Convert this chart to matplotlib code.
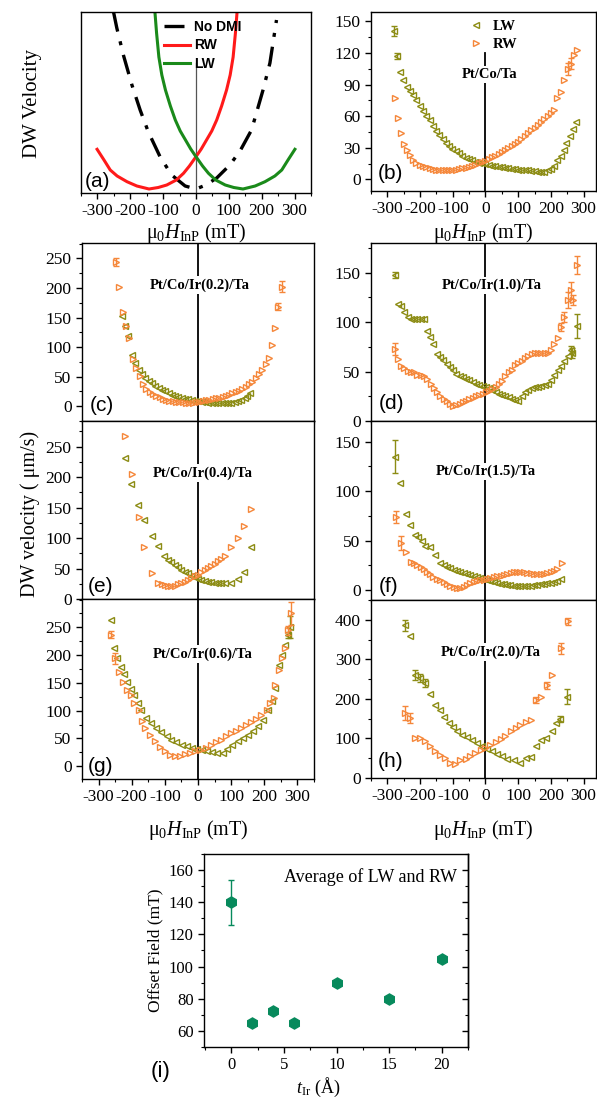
import numpy as np
import matplotlib
matplotlib.use('Agg')
import matplotlib.pyplot as plt
from matplotlib.ticker import MultipleLocator
from matplotlib.lines import Line2D

plt.rcParams['font.family'] = 'Liberation Serif'
plt.rcParams['mathtext.fontset'] = 'custom'
plt.rcParams['mathtext.rm'] = 'Liberation Serif'
plt.rcParams['mathtext.it'] = 'Liberation Serif:italic'
plt.rcParams['axes.unicode_minus'] = False
plt.rcParams['axes.linewidth'] = 1.0

OLIVE = '#8C8C14'
ORANGE = '#F5873A'
TEAL = '#078A5C'

# ---- (a) sketch curves (arbitrary units) ----
a_nodmi_h = [-251, -241, -221, -195, -170, -145, -109, -74, -33, 0, 30, 63, 103, 134, 169, 204, 225, 245]
a_nodmi_v = [181, 165, 138, 108, 83, 61, 36, 18, 7, 4, 8, 15, 28, 42, 63, 103, 130, 173]
a_rw_h = [-301, -280, -261, -240, -210, -180, -143, -115, -89, -60, -38, -20, 0, 16, 32, 48, 63, 78, 93, 104, 113, 120, 125]
a_rw_v = [43.7, 33, 23, 17, 11.3, 7, 4, 5.5, 8, 13, 19.7, 27, 36.3, 44, 53, 62, 73, 87, 103, 118, 136, 160, 181]
a_lw_h = [-125, -120, -113, -104, -93, -78, -63, -48, -32, -16, 0, 20, 38, 60, 89, 115, 143, 180, 210, 240, 261, 280, 301]
a_lw_v = [181, 160, 136, 118, 103, 87, 73, 62, 53, 44, 36.3, 27, 19.7, 13, 8, 5.5, 4, 7, 11.3, 17, 23, 33, 43.7]

# ---- (b) Pt/Co/Ta ----
b_lw_h = [-281, -271, -261, -251, -241, -231, -221, -211, -201, -191, -181, -171, -161, -151, -141, -131, -121,
          -111, -101, -91, -81, -71, -61, -51, -41, -31, -21, -11, 0, 10, 20, 30, 40, 50, 60, 70, 80, 90, 100,
          110, 120, 130, 140, 150, 160, 170, 180, 190, 200, 210, 220, 230, 240, 247, 257, 268, 278]
b_lw_v = [141, 117, 102, 94, 88, 84, 80, 75, 70, 65, 60, 56, 51, 46, 42, 38, 35, 32, 29, 27, 25, 22, 20.5, 19,
          18, 17, 16, 15.5, 15, 13.5, 13, 12.5, 12, 11.5, 11, 10.5, 10, 9.7, 9.4, 9.1, 8.8, 8.5, 8.2, 7.8, 7.5,
          7.3, 7.5, 8.5, 10, 13, 18, 22, 28, 35, 41, 48, 55]
b_rw_h = [-278, -268, -258, -250, -241, -231, -221, -211, -201, -191, -181, -171, -161, -151, -141, -131, -121,
          -111, -101, -91, -81, -71, -61, -51, -41, -31, -21, -11, 0, 10, 20, 30, 40, 50, 60, 70, 80, 90, 100,
          110, 120, 130, 140, 150, 160, 170, 180, 190, 200, 210, 220, 230, 240, 251, 261, 271, 281]
b_rw_v = [77.5, 58, 44, 34, 28, 23, 18.5, 16, 14, 12.5, 11.5, 10.5, 9.8, 9.2, 9, 8.8, 8.8, 8.8, 9, 9.3, 9.8,
          10.5, 11, 12, 13, 14, 15.5, 16.5, 17.5, 19, 21, 22.5, 24, 26, 28, 30, 32, 34, 36, 38.5, 41, 44, 46.5,
          49, 52, 55, 57.5, 60, 63, 66, 77, 83, 94, 105, 110, 118, 123]
b_lw_err = {-281: 5, -271: 3}
b_rw_err = {251: 6, 261: 5}

# ---- (c) Pt/Co/Ir(0.2)/Ta ----
c_lw_h = [-230, -220, -210, -199, -189, -179, -169, -159, -149, -139, -129, -119, -109, -99, -89, -79, -69, -59,
          -49, -39, -29, -19, -9, 1, 11, 21, 31, 41, 51, 61, 71, 81, 91, 101, 111, 121, 131, 141, 148, 156]
c_lw_v = [152, 136, 118, 86, 73, 62, 55, 48, 43, 39, 35, 31, 28, 25, 22, 19, 17, 15, 14, 13, 11.5, 10.5, 9.5,
          8.5, 7.5, 6.5, 6, 5.5, 5, 5, 5, 5, 5, 5.5, 7, 9, 11, 14, 18, 23]
c_rw_h = [-248, -238, -227, -217, -207, -197, -186, -176, -166, -156, -146, -136, -126, -116, -106, -96, -86, -76,
          -66, -56, -46, -36, -26, -16, -6, 4, 14, 24, 34, 44, 54, 64, 74, 84, 94, 104, 114, 124, 134, 144, 154,
          164, 174, 184, 194, 204, 214, 224, 232, 241, 253]
c_rw_v = [244, 202, 160, 135, 115, 79, 65, 51, 37, 29, 24, 20, 17.5, 15, 13, 11, 9.5, 8.3, 7.5, 6.8, 6.3, 6, 6,
          6, 6.5, 7.5, 8.5, 10, 11, 12, 13.5, 14.5, 16, 17.5, 19.5, 22, 24, 26.5, 29, 33, 37, 41, 47, 54, 61, 72,
          82, 104, 132, 168, 202]
c_lw_err = {}
c_rw_err = {-248: 7, 241: 6, 253: 9}

# ---- (d) Pt/Co/Ir(1.0)/Ta ----
d_lw_h = [-278, -268, -258, -248, -238, -228, -218, -208, -198, -188, -179, -169, -159, -149, -139, -129, -119,
          -109, -99, -89, -79, -69, -59, -49, -39, -29, -19, -9, 1, 11, 21, 31, 41, 51, 61, 71, 81, 91, 101, 111,
          121, 131, 141, 151, 161, 171, 181, 191, 201, 211, 221, 231, 241, 251, 261, 266, 279]
d_lw_v = [148, 118, 116, 110, 105, 103, 103, 103, 103, 103, 91, 85, 78, 68, 65, 62, 58, 55, 52, 48, 46, 44, 42.5,
          41, 39, 37.5, 36, 35, 34.5, 33.5, 31.5, 29.5, 27, 26, 25, 24, 22.5, 21, 20, 25, 29, 31, 33, 34, 34.5,
          35, 36, 37, 41, 47, 52, 56, 61, 66, 72, 69, 96]
d_rw_h = [-278, -268, -258, -248, -238, -228, -218, -208, -198, -188, -178, -168, -158, -148, -138, -128, -118,
          -108, -99, -89, -79, -69, -59, -49, -39, -29, -19, -9, 1, 11, 21, 31, 41, 51, 61, 71, 81, 91, 101, 111,
          121, 131, 141, 151, 161, 171, 181, 191, 201, 211, 221, 231, 241, 251, 261, 269, 279]
d_rw_v = [73, 63, 56, 54, 51, 50, 50, 47, 47, 45, 42, 37, 33, 29, 25.5, 22, 20, 17.5, 15, 16, 17.5, 19, 20.5, 22,
          23.5, 25, 26, 27.5, 29, 30.5, 32, 34.5, 37, 40, 45, 50, 52, 57, 59, 61, 64, 66, 68, 69, 69, 69, 69, 69,
          72, 78, 84, 95, 105, 122, 132, 122, 158]
d_lw_err = {-278: 3, 261: 4, 266: 5, 279: 12}
d_rw_err = {-278: 6, 231: 4, 241: 5, 251: 8, 261: 9, 269: 5, 279: 9}

# ---- (e) Pt/Co/Ir(0.4)/Ta ----
e_lw_h = [-220, -203, -182, -162, -139, -121, -102, -90, -80, -70, -60, -50, -40, -30, -20, -10, 0, 10, 20, 30,
          40, 50, 60, 70, 80, 99, 120, 138, 159]
e_lw_v = [231, 189, 154, 130, 104, 87, 71, 64, 60, 56, 52, 48, 45, 42, 38, 35.5, 33, 31, 29.5, 28.5, 27.5, 26.5,
          26, 25.5, 25.5, 25.5, 32, 44, 86]
e_rw_h = [-220, -200, -179, -162, -139, -121, -110, -100, -90, -80, -70, -60, -50, -40, -30, -20, -10, 0, 10, 20,
          30, 40, 50, 60, 70, 80, 99, 120, 140, 159]
e_rw_v = [268, 205, 134, 85, 42, 27, 25, 23, 21.5, 21, 22, 24, 26, 28.5, 31, 34, 37, 40, 43.5, 47, 50.5, 54, 58,
          62, 66, 70, 85, 100, 120, 147]
e_lw_err = {}
e_rw_err = {}

# ---- (f) Pt/Co/Ir(1.5)/Ta ----
f_lw_h = [-276, -261, -243, -230, -215, -205, -195, -184, -169, -154, -138, -128, -118, -108, -97, -87, -77, -67,
          -56, -46, -36, -26, -16, -6, 4, 15, 25, 36, 46, 56, 66, 76, 87, 97, 107, 118, 128, 138, 148, 159, 169,
          179, 189, 200, 210, 220, 230]
f_lw_v = [135, 108, 76.5, 66, 55.6, 54, 50, 44.5, 44, 35, 27.6, 25, 23.6, 22, 20, 19, 18, 17, 16, 15, 14.5, 13.5,
          12.5, 11.5, 10.5, 9.4, 8.5, 7.4, 6.5, 5.8, 5, 4.8, 4.5, 4.4, 4.3, 4.3, 4.4, 4.6, 5, 5.4, 5.8, 6.3, 6.7,
          7.3, 7.8, 9, 10.8]
f_rw_h = [-273, -259, -243, -228, -218, -208, -198, -188, -179, -169, -159, -149, -138, -128, -118, -108, -97, -87,
          -77, -67, -56, -46, -36, -26, -16, -6, 5, 15, 26, 36, 46, 56, 66, 77, 87, 97, 107, 118, 128, 138, 148,
          159, 169, 179, 189, 200, 210, 220, 233]
f_rw_v = [74, 48, 39, 28.6, 27, 25, 23.6, 21, 18.5, 16, 13.5, 11.5, 10, 8, 6, 4.5, 3.4, 2.2, 2, 3.4, 5, 6.7, 8, 9,
          10, 10.5, 11.3, 12, 12.8, 14, 14.7, 15.5, 16.5, 17.5, 18, 18.5, 18.5, 18, 17.5, 17, 16.3, 16, 16, 16, 17,
          18, 19, 21, 27.6]
f_lw_err = {-276: 17}
f_rw_err = {-273: 6, -259: 7}

# ---- (g) Pt/Co/Ir(0.6)/Ta ----
g_lw_h = [-261, -254, -244, -233, -223, -213, -203, -192, -182, -172, -157, -141, -126, -111, -95, -80, -65, -49,
          -34, -18, -3, 12, 28, 43, 58, 74, 89, 104, 120, 135, 150, 166, 181, 197, 212, 222, 232, 243, 253, 263,
          271, 278]
g_lw_v = [263, 212, 194, 179, 166, 152, 139, 129, 114, 102, 87, 78, 69, 61, 54, 48, 43, 39, 36, 33, 31, 30, 28,
          25.7, 24, 24, 31.7, 39, 45, 51, 57, 64, 72, 84, 102, 117, 141, 182, 200, 218, 236, 251]
g_rw_h = [-261, -251, -238, -226, -213, -203, -192, -179, -169, -159, -146, -131, -116, -100, -85, -70, -54, -39,
          -24, -8, 7, 23, 38, 53, 69, 84, 99, 115, 130, 145, 161, 176, 191, 207, 217, 230, 232, 243, 253, 263,
          271, 281]
g_rw_v = [237, 194, 170, 152, 138, 129, 114, 102, 82, 69, 57, 45, 34, 27, 20, 18, 19, 22, 24, 27, 30, 33, 38,
          43, 48, 54, 60, 64, 69, 74, 79, 85, 93, 102, 114, 123, 147, 173, 194, 212, 245, 275]
g_lw_err = {271: 6, 278: 20}
g_rw_err = {-261: 6, -251: 10, 271: 8, 281: 20}

# ---- (h) Pt/Co/Ir(2.0)/Ta ----
h_lw_h = [-246, -230, -215, -200, -184, -169, -154, -140, -126, -113, -99, -87, -72, -56, -41, -26, -10, 5, 20,
          36, 51, 67, 87, 107, 123, 138, 154, 169, 184, 202, 215, 228, 249]
h_lw_v = [386, 358, 261, 253, 240, 212, 185, 173, 153, 139, 130, 118, 109, 103, 97, 88, 80, 74, 67, 61, 55, 49,
          46, 38, 50, 52, 80, 97, 101, 118, 139, 150, 206]
h_rw_h = [-246, -230, -215, -200, -184, -169, -154, -138, -123, -108, -92, -77, -61, -46, -31, -15, 0, 15, 31, 46,
          61, 77, 92, 107, 123, 138, 154, 169, 187, 202, 232, 251]
h_rw_v = [164, 152, 101, 101, 93, 80, 67, 59, 50, 38, 35, 46, 48, 55, 63, 72, 77, 84, 91, 98, 105, 118, 126, 135,
          141, 147, 198, 206, 234, 261, 328, 396]
h_lw_err = {-246: 14, -215: 12, -200: 10, -184: 10, 228: 8, 249: 20}
h_rw_err = {-246: 18, -230: 12, 154: 8, 187: 8, 232: 14, 251: 9}

# ---- (i) offset field ----
t_ir = [0, 2, 4, 6, 10, 15, 20]
offset = [140, 65, 72.5, 65, 90, 80, 105]
offset_err = [14, 2, 2, 2, 1.5, 1.5, 1.5]

W, H = 597, 1098
fig = plt.figure(figsize=(W / 100, H / 100), dpi=100)


def box(l, t, r, b):
    return [l / W, 1 - b / H, (r - l) / W, (b - t) / H]


def fx(px):
    return px / W


def fy(py):
    return 1 - py / H


def style(ax, xlabels):
    ax.tick_params(which='both', direction='out', top=False, right=False, labelsize=12.5)
    ax.tick_params(which='major', length=4, width=1)
    ax.tick_params(which='minor', length=2.2, width=0.8)
    ax.xaxis.set_major_locator(MultipleLocator(100))
    ax.xaxis.set_minor_locator(MultipleLocator(50))
    if not xlabels:
        ax.tick_params(axis='x', labelbottom=False)


def tag(ax, s, dx, dy):
    ax.annotate(s, (0, 0), xycoords='axes fraction', xytext=(dx, dy), textcoords='offset pixels',
                ha='left', va='bottom', fontsize=15, family='Liberation Sans')


def series(ax, h, v, err, color, marker):
    ax.plot(h, v, marker, ms=4.6, mfc='none', mec=color, mew=1, zorder=2)
    eh = [x for x in h if x in err]
    if eh:
        ev = [v[h.index(x)] for x in eh]
        ee = [err[x] for x in eh]
        ax.errorbar(eh, ev, yerr=ee, fmt='none', ecolor=color, elinewidth=1, capsize=2, capthick=1, zorder=2)


def data_panel(pos, lw, rw, xlim, ylim, yticks, title, title_xy, label, label_off, xlabels):
    ax = fig.add_axes(box(*pos))
    series(ax, lw[0], lw[1], lw[2], OLIVE, '<')
    series(ax, rw[0], rw[1], rw[2], ORANGE, '>')
    ax.axvline(0, color='k', lw=1.3, zorder=1)
    ax.set_xlim(*xlim)
    ax.set_ylim(*ylim)
    ax.set_yticks(yticks)
    ax.yaxis.set_minor_locator(MultipleLocator((yticks[1] - yticks[0]) / 2))
    style(ax, xlabels)
    ax.text(title_xy[0], title_xy[1], title, ha='center', va='center', fontsize=10.5, fontweight='bold',
            bbox=dict(fc='white', ec='none', pad=1.5), zorder=3)
    tag(ax, label, *label_off)
    return ax


LX = (-350, 350)
RX = (-350, 338)

# (a)
ax = fig.add_axes(box(81, 12, 311, 193))
ax.plot(a_nodmi_h, a_nodmi_v, color='k', lw=2.4, ls=(0, (6, 3, 1.2, 3)), label='No DMI')
ax.plot(a_rw_h, a_rw_v, color='#FF1A1A', lw=2.2, label='RW')
ax.plot(a_lw_h, a_lw_v, color='#1A8A1A', lw=2.2, label='LW')
ax.axvline(0, ymax=0.72, color='#555555', lw=0.9, zorder=0)
ax.set_xlim(*LX)
ax.set_ylim(0, 181)
ax.set_yticks([])
style(ax, True)
ax.legend(loc='upper left', bbox_to_anchor=(0.335, 0.985), frameon=False, handlelength=1.9,
          handletextpad=0.3, labelspacing=0.3, borderaxespad=0,
          prop={'family': 'Liberation Sans', 'weight': 'bold', 'size': 10})
tag(ax, '(a)', 4, 2)
fig.text(fx(32), fy(103), 'DW Velocity', rotation=90, ha='center', va='center', fontsize=15)

# (b)
ax = fig.add_axes(box(371, 12, 596, 191))
series(ax, b_lw_h, b_lw_v, b_lw_err, OLIVE, '<')
series(ax, b_rw_h, b_rw_v, b_rw_err, ORANGE, '>')
ax.axvline(0, ymax=0.77, color='k', lw=1.3, zorder=1)
ax.set_xlim(*RX)
ax.set_ylim(-11, 159)
ax.set_yticks([0, 30, 60, 90, 120, 150])
ax.yaxis.set_minor_locator(MultipleLocator(15))
style(ax, True)
ax.text(12, 100, 'Pt/Co/Ta', ha='center', va='center', fontsize=10.5, fontweight='bold',
        bbox=dict(fc='white', ec='none', pad=1.5), zorder=3)
hl = [Line2D([], [], ls='none', marker='<', ms=4.6, mfc='none', mec=OLIVE, mew=1),
      Line2D([], [], ls='none', marker='>', ms=4.6, mfc='none', mec=ORANGE, mew=1)]
ax.legend(hl, ['LW', 'RW'], loc='upper left', bbox_to_anchor=(0.4, 0.99), frameon=False,
          handlelength=1.2, handletextpad=0.6, labelspacing=0.35, borderaxespad=0,
          prop={'weight': 'bold', 'size': 10.5})
tag(ax, '(b)', 7, 8)

fig.text(fx(196), fy(233), r'μ$_0$$\mathit{H}_{\mathrm{InP}}$ (mT)', ha='center', va='center', fontsize=14.5)
fig.text(fx(483), fy(233), r'μ$_0$$\mathit{H}_{\mathrm{InP}}$ (mT)', ha='center', va='center', fontsize=14.5)

# left column
data_panel((82, 243, 314, 421), (c_lw_h, c_lw_v, c_lw_err), (c_rw_h, c_rw_v, c_rw_err), LX, (-25, 276),
           [0, 50, 100, 150, 200, 250], 'Pt/Co/Ir(0.2)/Ta', (5, 205), '(c)', (8, 6), False)
data_panel((82, 421, 314, 599), (e_lw_h, e_lw_v, e_lw_err), (e_rw_h, e_rw_v, e_rw_err), LX, (0, 292),
           [0, 50, 100, 150, 200, 250], 'Pt/Co/Ir(0.4)/Ta', (14, 207), '(e)', (6, 3), False)
data_panel((82, 599, 314, 779), (g_lw_h, g_lw_v, g_lw_err), (g_rw_h, g_rw_v, g_rw_err), LX, (-23, 301),
           [0, 50, 100, 150, 200, 250], 'Pt/Co/Ir(0.6)/Ta', (14, 202), '(g)', (6, 3), True)

# right column
data_panel((371, 243, 596, 421), (d_lw_h, d_lw_v, d_lw_err), (d_rw_h, d_rw_v, d_rw_err), RX, (0, 180),
           [0, 50, 100, 150], 'Pt/Co/Ir(1.0)/Ta', (18, 137), '(d)', (8, 8), False)
data_panel((371, 421, 596, 600), (f_lw_h, f_lw_v, f_lw_err), (f_rw_h, f_rw_v, f_rw_err), RX, (-10, 171),
           [0, 50, 100, 150], 'Pt/Co/Ir(1.5)/Ta', (2, 120), '(f)', (8, 4), False)
data_panel((371, 600, 596, 778), (h_lw_h, h_lw_v, h_lw_err), (h_rw_h, h_rw_v, h_rw_err), RX, (0, 450),
           [0, 100, 200, 300, 400], 'Pt/Co/Ir(2.0)/Ta', (15, 318), '(h)', (7, 7), True)

fig.text(fx(30), fy(514), 'DW velocity ( μm/s)', rotation=90, ha='center', va='center', fontsize=14.5)
fig.text(fx(198), fy(830), r'μ$_0$$\mathit{H}_{\mathrm{InP}}$ (mT)', ha='center', va='center', fontsize=14.5)
fig.text(fx(483), fy(830), r'μ$_0$$\mathit{H}_{\mathrm{InP}}$ (mT)', ha='center', va='center', fontsize=14.5)

# (i)
ax = fig.add_axes(box(204, 854, 468, 1047))
ax.errorbar(t_ir, offset, yerr=offset_err, fmt='h', ms=8, color=TEAL, mec=TEAL, elinewidth=1,
            capsize=2.5, capthick=1)
ax.set_xlim(-2.6, 22.5)
ax.set_ylim(50, 170)
ax.xaxis.set_major_locator(MultipleLocator(5))
ax.xaxis.set_minor_locator(MultipleLocator(2.5))
ax.set_yticks([60, 80, 100, 120, 140, 160])
ax.yaxis.set_minor_locator(MultipleLocator(10))
ax.tick_params(which='both', direction='out', labelsize=12)
ax.tick_params(which='major', length=4, width=1)
ax.tick_params(which='minor', length=2.2, width=0.8)
sec = ax.secondary_yaxis('right')
sec.set_yticks([60, 80, 100, 120, 140, 160])
sec.yaxis.set_minor_locator(MultipleLocator(10))
sec.tick_params(which='both', direction='in', labelright=False)
sec.tick_params(which='major', length=4, width=1)
sec.tick_params(which='minor', length=2.2, width=0.8)
ax.text(0.96, 0.88, 'Average of LW and RW', transform=ax.transAxes, ha='right', va='center', fontsize=13)
ax.set_ylabel('Offset Field (mT)', fontsize=12.5, labelpad=4)
fig.text(fx(318), fy(1087), r'$\mathit{t}_{\mathrm{Ir}}$ (Å)', ha='center', va='center', fontsize=13)
fig.text(fx(161), fy(1072), '(i)', ha='center', va='center', fontsize=16, family='Liberation Sans')

fig.savefig('out.png', dpi=100)
